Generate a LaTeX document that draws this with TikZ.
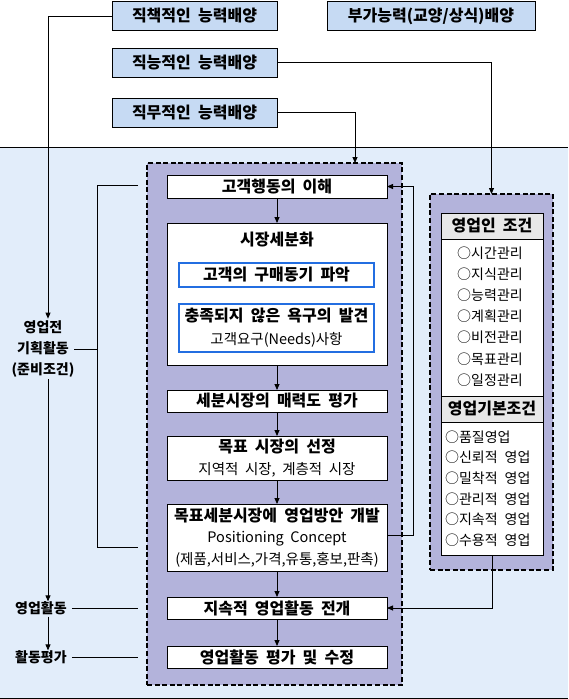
\documentclass[tikz,border=0pt]{standalone}
\usepackage{fontspec}
\setmainfont{Noto Sans CJK KR}
\usetikzlibrary{arrows.meta}

\definecolor{topblue}{RGB}{198,218,243}
\definecolor{areablue}{RGB}{226,237,250}
\definecolor{panelviolet}{RGB}{179,179,219}
\definecolor{headgray}{RGB}{232,232,232}
\definecolor{frameblue}{RGB}{35,110,225}

\newcommand{\btxt}{\fontsize{16}{21.5}\selectfont\bfseries\spaceskip=0.45em\relax}
\newcommand{\ntxt}{\fontsize{14.5}{21.5}\selectfont\mdseries\spaceskip=0.45em\relax}
\newcommand{\ltxt}{\fontsize{14}{21}\selectfont\bfseries}
\newcommand{\itxt}{\fontsize{14}{16}\selectfont\spaceskip=0.5em\relax}

\begin{document}
\begin{tikzpicture}[x=1pt,y=-1pt,
  every node/.style={inner sep=0pt,outer sep=0pt},
  topbox/.style={draw,line width=0.9pt,fill=topblue,minimum width=165pt,minimum height=29pt,font=\btxt},
  panel/.style={draw,fill=panelviolet,line width=2.6pt,dash pattern=on 5pt off 2.6pt},
  stepbox/.style={draw,line width=0.9pt,fill=white,minimum width=220pt,align=center,font=\btxt},
  needbox/.style={draw=frameblue,line width=2pt,fill=white,minimum width=195pt,align=center,font=\btxt},
  headbox/.style={draw,line width=0.9pt,fill=headgray,minimum width=102pt,minimum height=26pt,font=\btxt},
  listbox/.style={draw,line width=0.9pt,fill=white,minimum width=102pt},
  listitem/.style={font=\itxt},
  sidelabel/.style={align=center,font=\ltxt},
  link/.style={line width=0.8pt},
  arr/.style={link,-{Triangle[length=6pt,width=5pt]}}]

  \useasboundingbox (0,0) rectangle (568,699);
  \fill[areablue] (0,147) rectangle (568,698);
  \draw[link] (0,147) -- (568,147);
  \draw[link] (0,698) -- (568,698);

  % ability boxes on top
  \node[topbox] (duty) at (194.5,16) {직책적인 능력배양};
  \node[topbox,minimum width=208pt] (extra) at (431,16) {부가능력(교양/상식)배양};
  \node[topbox] (func) at (194.5,62.5) {직능적인 능력배양};
  \node[topbox] (task) at (194.5,112.5) {직무적인 능력배양};

  % main flow
  \node[panel,minimum width=255pt,minimum height=522pt] (flow) at (274.5,424) {};
  \node[stepbox,minimum height=23pt] (behav) at (277,186.5) {고객행동의 이해};
  \node[stepbox,minimum height=142pt] (segm) at (277,294) {};
  \node[font=\btxt] (segmt) at (277,240) {시장세분화};
  \node[needbox,minimum height=24pt] (motive) at (276.5,275) {고객의 구매동기 파악};
  \node[needbox,minimum height=48pt] (needs) at (276.5,328) {충족되지 않은 욕구의 발견\\[1.5pt]{\ntxt 고객요구(Needs)사항}};
  \node[stepbox,minimum height=22pt] (attr) at (277,401) {세분시장의 매력도 평가};
  \node[stepbox,minimum height=44pt] (target) at (277,458) {목표 시장의 선정\\{\ntxt 지역적 시장, 계층적 시장}};
  \node[stepbox,minimum height=67pt] (posit) at (277,537.5) {목표세분시장에 영업방안 개발\\{\ntxt Positioning Concept}\\{\ntxt (제품,서비스,가격,유통,홍보,판촉)}};
  \node[stepbox,minimum height=22pt] (keep) at (277,608) {지속적 영업활동 전개};
  \node[stepbox,minimum height=22pt] (review) at (277,657) {영업활동 평가 및 수정};
  \foreach \a/\b in {behav/segm,segm/attr,attr/target,target/posit,posit/keep,keep/review}
    \draw[arr] (\a) -- (\b);

  % conditions panel
  \node[panel,minimum width=123pt,minimum height=376pt] (cond) at (491.5,382) {};
  \node[headbox] (sellerhd) at (492,226) {영업인 조건};
  \node[listbox,minimum height=157pt] (sellerls) at (492,317.5) {};
  \node[headbox] (basehd) at (492,409) {영업기본조건};
  \node[listbox,minimum height=133pt] (basels) at (492,488.5) {};
  \foreach \lbl [count=\i, evaluate=\i as \yy using 253+21.15*(\i-1)] in {시간관리,지식관리,능력관리,계획관리,비전관리,목표관리,일정관리}
    \node[listitem] (sel\i) at (490,\yy) {○\lbl};
  \foreach \lbl [count=\i, evaluate=\i as \yy using 437+20.6*(\i-1)] in {품질영업,신뢰적 영업,밀착적 영업,관리적 영업,지속적 영업,수용적 영업}
    \node[listitem,anchor=west] (bas\i) at (445,\yy) {○\lbl};

  % stages on the left
  \node[sidelabel] (prep) at (43,349) {영업전\\기획활동\\(준비조건)};
  \node[sidelabel] (act) at (41,608) {영업활동};
  \node[sidelabel] (eval) at (41,657) {활동평가};

  \coordinate (lx) at (48,0);
  \coordinate (bx) at (97,0);
  \coordinate (taskx) at (355,0);
  \coordinate (brT) at (138,185);
  \coordinate (brB) at (138,547);
  \draw[arr,shorten >=2pt] (duty.west) -| (lx |- prep.north);
  \draw[arr,shorten <=2pt] (lx |- prep.south) -- (lx |- act.north);
  \draw[arr,shorten <=2pt] (lx |- act.south) -- (lx |- eval.north);
  \draw[link,shorten <=5pt] (act.east) -- (act.east -| brT);
  \draw[link,shorten <=5pt] (eval.east) -- (eval.east -| brT);
  \draw[link] (brT) -- (brT -| bx) -- (brB -| bx) -- (brB);
  \draw[link] (prep.east) -- (prep.east -| bx);
  \draw[arr] (task.east) -| (taskx |- flow.north);
  \draw[arr] (func.east) -| (cond.north);
  \draw[arr] ([yshift=2.5pt]posit.east) -- ++(26,0) |- (behav.east);
  \draw[arr] (basels.south) |- (keep.east);
\end{tikzpicture}
\end{document}
